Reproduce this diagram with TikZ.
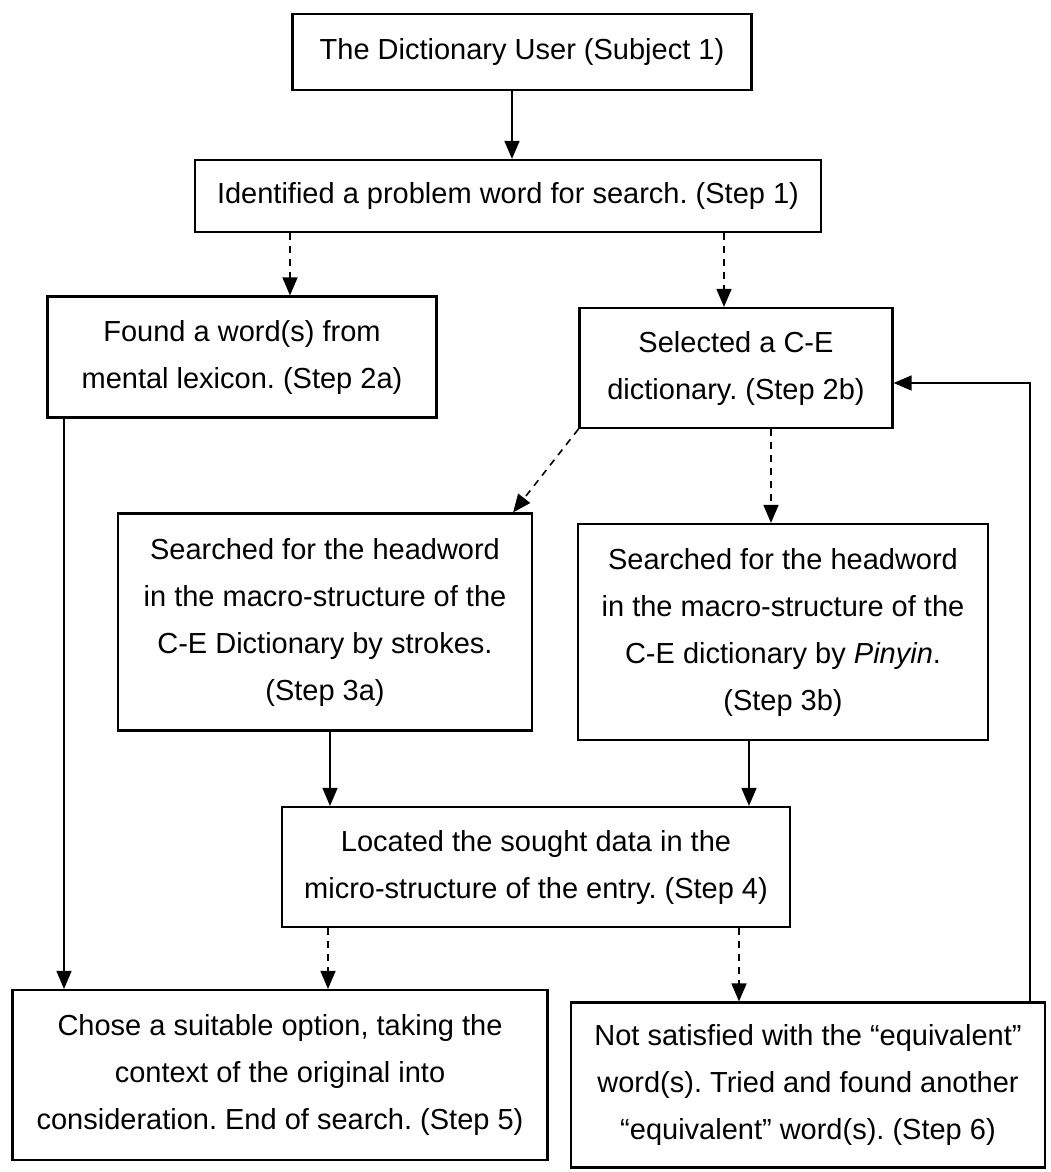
\documentclass[tikz,border=0pt]{standalone}
\usepackage{fontspec}
\setmainfont{Liberation Sans}
\usetikzlibrary{arrows.meta}
\frenchspacing
\tikzset{
  box/.style={draw, line width=2.2pt, align=center, inner sep=0pt,
    font=\fontsize{29}{47}\selectfont},
  link/.style={line width=1.6pt, ->},
  dlink/.style={link, dash pattern=on 7pt off 6pt}
}
\begin{document}
\begin{tikzpicture}[x=1pt,y=-1pt,>={Triangle[length=18pt,width=15pt]}]
\useasboundingbox (0,0) rectangle (1051,1172);
\node[box, minimum width=459, minimum height=76] (0) at (522,52) {The Dictionary User (Subject 1)};
\node[box, minimum width=626, minimum height=72] (1) at (508,196) {Identified a problem word for search. (Step 1)};
\node[box, minimum width=389, minimum height=121] (2a) at (242,357) {Found a word(s) from\\mental lexicon. (Step 2a)};
\node[box, minimum width=313, minimum height=120] (2b) at (736,368) {Selected a C-E\\dictionary. (Step 2b)};
\node[box, minimum width=414, minimum height=217] (3a) at (325,622) {Searched for the headword\\in the macro-structure of the\\C-E Dictionary by strokes.\\(Step 3a)};
\node[box, minimum width=410, minimum height=216] (3b) at (783,632) {Searched for the headword\\in the macro-structure of the\\C-E dictionary by \textit{Pinyin}.\\(Step 3b)};
\node[box, minimum width=508, minimum height=120] (4) at (536,867) {Located the sought data in the\\micro-structure of the entry. (Step 4)};
\node[box, minimum width=535, minimum height=170] (5) at (280,1075) {Chose a suitable option, taking the\\context of the original into\\consideration. End of search. (Step 5)};
\node[box, minimum width=474, minimum height=165] (6) at (808,1085) {Not satisfied with the “equivalent”\\word(s). Tried and found another\\“equivalent” word(s). (Step 6)};
\path[draw,link] ([xshift=-10]0.south) -- ([xshift=4]1.north);
\path[draw,dlink] ([xshift=-218]1.south) -- ([xshift=48]2a.north);
\path[draw,dlink] ([xshift=216]1.south) -- ([xshift=-12]2b.north);
\path[draw,link] ([xshift=-178]2a.south) -- ([xshift=-216]5.north);
\path[draw,dlink] (2b.south west) -- ([xshift=-20]3a.north east);
\path[draw,dlink] ([xshift=35]2b.south) -- ([xshift=-12]3b.north);
\path[draw,link] ([xshift=5]3a.south) -- ([xshift=-206]4.north);
\path[draw,link] ([xshift=-34]3b.south) -- ([xshift=213]4.north);
\path[draw,dlink] ([xshift=-208]4.south) -- ([xshift=48]5.north);
\path[draw,dlink] ([xshift=203]4.south) -- ([xshift=-69]6.north);
\path[draw,link] ([xshift=222]6.north) |- ([yshift=-15]2b.east);
\end{tikzpicture}
\end{document}
